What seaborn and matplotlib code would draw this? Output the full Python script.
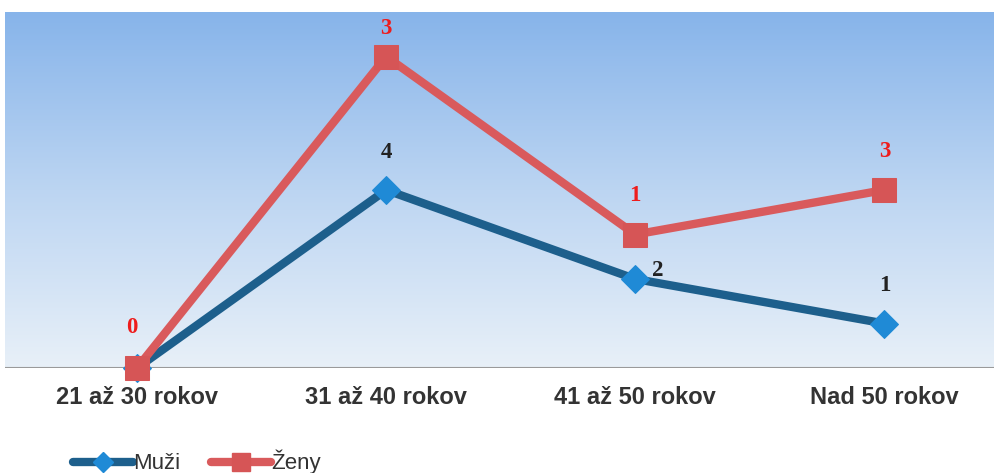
import numpy as np
import pandas as pd
import matplotlib
matplotlib.use("Agg")
import matplotlib.pyplot as plt
import seaborn as sns
from matplotlib.lines import Line2D
from matplotlib.colors import LinearSegmentedColormap

categories = ["21 až 30 rokov", "31 až 40 rokov", "41 až 50 rokov", "Nad 50 rokov"]
muzi = [0, 4, 2, 1]
zeny = [0, 3, 1, 3]

sns.set_theme(style="white")
plt.rcParams['font.family'] = ['Liberation Sans', 'DejaVu Sans']

df = pd.DataFrame({
    "cat": categories,
    "pos": np.arange(len(categories)),
    "Muži": muzi,
    "Ženy": zeny,
})
df["Ženy_stack"] = df["Muži"] + df["Ženy"]

fig = plt.figure(figsize=(9.94, 4.73), dpi=100)
ax = fig.add_axes([5/994, (473-368)/473, 989/994, (368-12)/473])

x0, x1 = -0.53, 3.44
y0, y1 = 0, 8.0
ax.set_xlim(x0, x1)
ax.set_ylim(y0, y1)

cmap = LinearSegmentedColormap.from_list("bg", ["#e8f0f8", "#bcd5f2", "#87b4ea"])
grad = np.linspace(0, 1, 256).reshape(-1, 1)
ax.imshow(grad, extent=[x0, x1, y0, y1], origin="lower", cmap=cmap, aspect="auto", zorder=0)

blue_line = "#1d5f8c"
blue_mark = "#1f8ad6"
red_line = "#d95a5c"
red_mark = "#d65556"

sns.lineplot(data=df, x="pos", y="Muži", ax=ax, color=blue_line, linewidth=6,
             marker="D", markersize=14, markerfacecolor=blue_mark, markeredgecolor=blue_mark,
             zorder=3, legend=False, clip_on=False)
sns.lineplot(data=df, x="pos", y="Ženy_stack", ax=ax, color=red_line, linewidth=6,
             marker="s", markersize=17, markerfacecolor=red_mark, markeredgecolor=red_mark,
             zorder=4, legend=False, clip_on=False)

ax.axhline(0, color="#9a9a9a", linewidth=1.5, zorder=2)

lab_kw = dict(ha="center", va="center", fontsize=16.5, fontweight="bold",
              family=["Liberation Serif"], zorder=5)
for i in range(len(categories)):
    if i == 0:
        ax.text(i - 0.02, df["Ženy_stack"][i] + 0.9, str(zeny[i]), color="#ee1c1c", **lab_kw)
        continue
    if i == 2:
        ax.text(i + 0.09, muzi[i] + 0.18, str(muzi[i]), color="#222222", **lab_kw)
    else:
        ax.text(i, muzi[i] + 0.85, str(muzi[i]), color="#222222", **lab_kw)
    ax.text(i, df["Ženy_stack"][i] + (0.62 if i == 1 else 0.87), str(zeny[i]), color="#ee1c1c", **lab_kw)

ax.set_xticks(df["pos"])
ax.set_xticklabels(categories, fontsize=17, fontweight="bold", color="#333333")
ax.tick_params(axis="x", length=0, pad=13)
ax.set_yticks([])
ax.set_xlabel("")
ax.set_ylabel("")
for s in ax.spines.values():
    s.set_visible(False)

handles = [
    Line2D([0], [0], color=blue_line, linewidth=6, marker="D", markersize=10,
           markerfacecolor=blue_mark, markeredgecolor=blue_mark),
    Line2D([0], [0], color=red_line, linewidth=6, marker="s", markersize=13,
           markerfacecolor=red_mark, markeredgecolor=red_mark),
]
fig.legend(handles, ["Muži", "Ženy"], loc="lower left", bbox_to_anchor=(0.053, -0.045),
           ncol=2, frameon=False, fontsize=16, handlelength=2.7, handletextpad=0.0,
           columnspacing=1.4, labelcolor="#333333")

fig.savefig("out.png", dpi=100)
